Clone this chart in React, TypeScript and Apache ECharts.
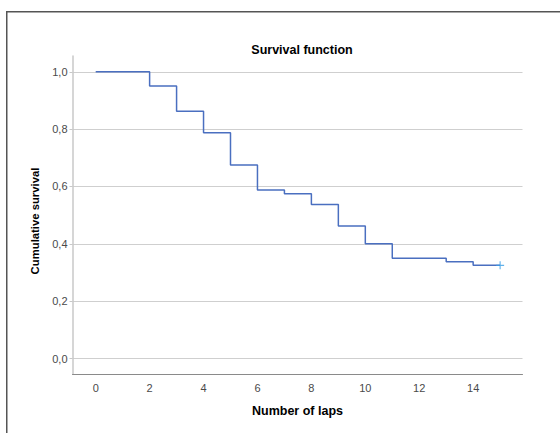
import React, { useEffect, useRef } from "react";
import * as echarts from "echarts";

const laps = [0, 2, 3, 4, 5, 6, 7, 8, 9, 10, 11, 13, 14, 15];
const survival = [1, 0.95, 0.8625, 0.7875, 0.675, 0.5875, 0.575, 0.5375, 0.4625, 0.4, 0.35, 0.3375, 0.325, 0.325];
const censoredLaps = [15];
const censoredSurvival = [0.325];
const xTicks = [0, 2, 4, 6, 8, 10, 12, 14];
const yTicks = [0, 0.2, 0.4, 0.6, 0.8, 1.0];

const FONT = "'Liberation Sans', Arial, sans-serif";

export default function App() {
  const ref = useRef<HTMLDivElement>(null);
  useEffect(() => {
    if (!ref.current) return;
    const chart = echarts.init(ref.current, undefined, { renderer: "svg" });
    chart.setOption({
      animation: false,
      backgroundColor: "#ffffff",
      textStyle: { fontFamily: FONT },
      title: {
        text: "Survival function",
        left: 297,
        textAlign: "center",
        top: 38,
        textStyle: { fontSize: 12.5, fontWeight: "bold", color: "#000", fontFamily: FONT },
      },
      graphic: [
        {
          type: "rect",
          shape: { x: 6.75, y: 11.75, width: 600, height: 500 },
          style: { fill: "none", stroke: "#555555", lineWidth: 1.5 },
          silent: true,
        },
        {
          type: "text",
          x: 35,
          y: 221,
          rotation: Math.PI / 2,
          style: {
            text: "Cumulative survival",
            fontSize: 11.3,
            fontWeight: "bold",
            fontFamily: FONT,
            fill: "#000",
            align: "center",
            verticalAlign: "middle",
          },
          silent: true,
        },
      ],
      grid: { left: 72.5, right: 37.5, top: 56, bottom: 59 },
      xAxis: {
        type: "value",
        min: -0.86,
        max: 15.83,
        name: "Number of laps",
        nameLocation: "middle",
        nameGap: 30,
        nameTextStyle: { fontSize: 12.5, fontWeight: "bold", color: "#000", fontFamily: FONT },
        axisLine: { show: true, onZero: false, lineStyle: { color: "#8a8a8a", width: 1 } },
        axisTick: { show: false, customValues: xTicks },
        axisLabel: {
          customValues: xTicks,
          fontSize: 11,
          color: "#4a4a4a",
          margin: 8,
          fontFamily: FONT,
        },
        splitLine: { show: false },
      },
      yAxis: {
        type: "value",
        min: -0.054,
        max: 1.055,
        axisLine: { show: true, onZero: false, lineStyle: { color: "#c8c8c8", width: 1.5 } },
        axisTick: { show: true, length: 3, customValues: yTicks, lineStyle: { color: "#c8c8c8" } },
        axisLabel: {
          customValues: yTicks,
          fontSize: 11,
          color: "#4a4a4a",
          margin: 5,
          fontFamily: FONT,
          formatter: (v: number) => v.toFixed(1).replace(".", ","),
        },
        splitLine: { show: true, lineStyle: { color: "#cfcfcf", width: 1 } },
      },
      series: [
        {
          type: "line",
          step: "end",
          data: laps.map((x, i) => [x, survival[i]]),
          showSymbol: false,
          symbol: "none",
          lineStyle: { color: "#4a6fc0", width: 1.5 },
          z: 3,
        },
        {
          type: "scatter",
          data: censoredLaps.map((x, i) => [x, censoredSurvival[i]]),
          symbol: "path://M4.3,0h1.4v4.3h4.3v1.4h-4.3v4.3h-1.4v-4.3h-4.3v-1.4h4.3z",
          symbolSize: 8,
          itemStyle: { color: "#3a9fe6" },
          z: 4,
        },
      ],
    });
    return () => chart.dispose();
  }, []);
  return (
    <div
      ref={ref}
      style={{ position: "fixed", left: 0, top: 0, width: 560, height: 433 }}
    />
  );
}
